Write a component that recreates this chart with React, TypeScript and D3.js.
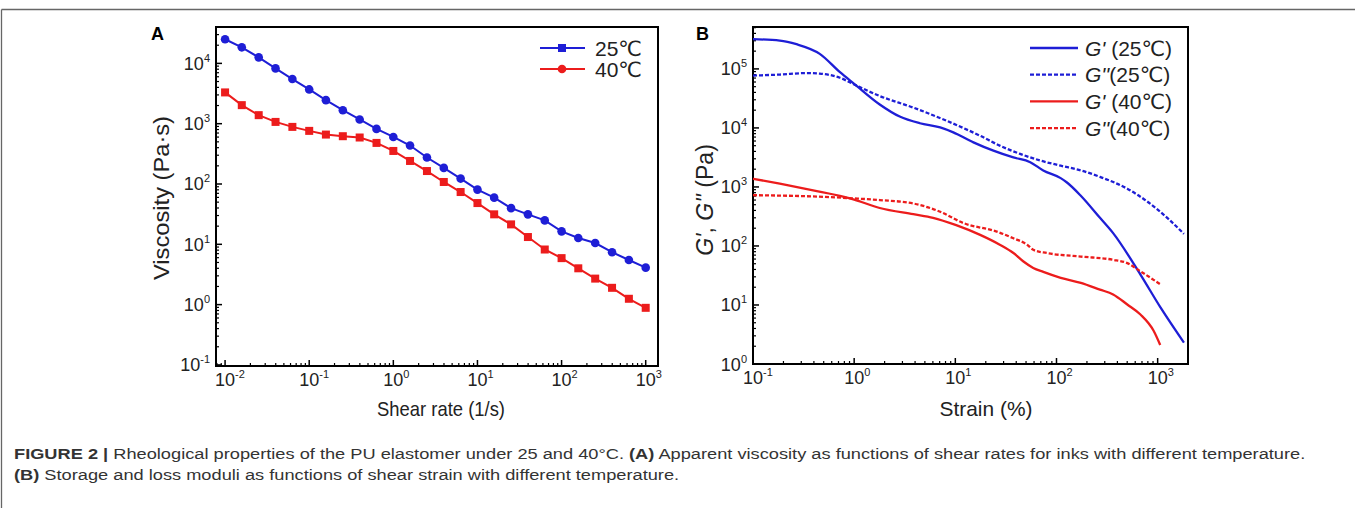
import React, { useEffect, useRef } from "react";
import * as d3 from "d3";

// ---------- Data ----------
// Panel A: viscosity vs shear rate
const shearRates = [0.01, 0.0158, 0.0251, 0.0398, 0.0631, 0.1, 0.158, 0.251, 0.398, 0.631, 1, 1.58, 2.51, 3.98, 6.31, 10, 15.8, 25.1, 39.8, 63.1, 100, 158, 251, 398, 631, 1000];
const visc25 = [25100, 18450, 12590, 8260, 5500, 3700, 2455, 1675, 1175, 820, 603, 435, 275, 185, 123, 80.7, 59.4, 39.8, 31.4, 24.9, 16.4, 12.7, 10.5, 7.4, 5.5, 4.1];
const visc40 = [3300, 2030, 1385, 1070, 885, 760, 660, 620, 590, 480, 353, 241, 164, 108, 73.6, 48.3, 31.4, 21.4, 13.2, 8.2, 5.9, 4.0, 2.7, 1.9, 1.25, 0.885];

// Panel B: moduli vs strain
const strainG1_25 = [0.1, 0.184, 0.269, 0.457, 0.724, 1.0, 1.79, 2.82, 4.47, 7.08, 9.55, 15.1, 23.8, 37.5, 55, 74, 110, 126, 172, 269, 363, 676, 1070, 1820];
const g1_25 = [319000, 302000, 262000, 180000, 88000, 56000, 25000, 15600, 12000, 10200, 8410, 5700, 4120, 3160, 2630, 1900, 1410, 1200, 724, 300, 165, 32.7, 9.0, 2.3];
const strainG2_25 = [0.1, 0.184, 0.339, 0.457, 0.724, 1.0, 1.79, 3.84, 8.22, 17.6, 27.5, 43.7, 69.2, 110, 174, 269, 501, 794, 1260, 1820];
const g2_25 = [77100, 80200, 85100, 83200, 70800, 54500, 34700, 22100, 13200, 7360, 5010, 3630, 2800, 2290, 1910, 1480, 933, 562, 293, 160];
const strainG1_40 = [0.1, 0.184, 0.393, 0.794, 1.0, 1.79, 3.84, 6.03, 10.2, 17.6, 27.5, 37.5, 46.8, 58.9, 74.1, 110, 174, 269, 363, 501, 676, 912, 1060];
const g1_40 = [1380, 1135, 877, 680, 610, 440, 345, 300, 225, 154, 105, 75.9, 55, 42.4, 36.3, 28.8, 23.7, 18.2, 15.1, 10.2, 6.9, 3.66, 2.1];
const strainG2_40 = [0.1, 0.393, 1.0, 1.79, 3.84, 7.08, 12.0, 25.7, 37.5, 51.3, 58.9, 80.4, 174, 363, 501, 676, 1060];
const g2_40 = [725, 690, 640, 600, 525, 380, 245, 175, 135, 105, 86.1, 75.9, 66.1, 58.3, 51.3, 37.2, 22.5];

const xTicksA = [-2, -1, 0, 1, 2, 3];
const yTicksA = [-1, 0, 1, 2, 3, 4];
const xTicksB = [-1, 0, 1, 2, 3];
const yTicksB = [0, 1, 2, 3, 4, 5];

const legendA = ["25\u2103", "40\u2103"];
const legendB = [
  { g: "G'", rest: " (25\u2103)" },
  { g: "G''", rest: "(25\u2103)" },
  { g: "G'", rest: " (40\u2103)" },
  { g: "G''", rest: "(40\u2103)" },
];

const BLUE = "#1e1ed6";
const RED = "#ec1c1c";
const FONT = "'Liberation Sans', Arial, 'DejaVu Sans', 'Noto Sans CJK SC', sans-serif";

type Box = { l: number; r: number; t: number; b: number };

function minorTicks(lo: number, hi: number) {
  const out: number[] = [];
  for (let e = lo - 1; e <= hi + 1; e++) {
    for (let k = 2; k <= 9; k++) out.push(k * Math.pow(10, e));
  }
  return out;
}

function Axes({ box, x, y, xt, yt }: { box: Box; x: any; y: any; xt: number[]; yt: number[] }) {
  const [x0, x1] = x.domain();
  const [y0, y1] = y.domain();
  const xm = minorTicks(xt[0], xt[xt.length - 1]).filter((v) => v > x0 && v < x1);
  const ym = minorTicks(yt[0], yt[yt.length - 1]).filter((v) => v > y0 && v < y1);
  return (
    <g>
      {xt.map((e) => (
        <line key={"xM" + e} x1={x(Math.pow(10, e))} x2={x(Math.pow(10, e))} y1={box.b} y2={box.b - 6} stroke="#000" strokeWidth={1.5} />
      ))}
      {xm.map((v, i) => (
        <line key={"xm" + i} x1={x(v)} x2={x(v)} y1={box.b} y2={box.b - 3} stroke="#000" strokeWidth={1.2} />
      ))}
      {yt.map((e) => (
        <line key={"yM" + e} x1={box.l} x2={box.l + 6} y1={y(Math.pow(10, e))} y2={y(Math.pow(10, e))} stroke="#000" strokeWidth={1.5} />
      ))}
      {ym.map((v, i) => (
        <line key={"ym" + i} x1={box.l} x2={box.l + 3} y1={y(v)} y2={y(v)} stroke="#000" strokeWidth={1.2} />
      ))}
      <rect x={box.l} y={box.t} width={box.r - box.l} height={box.b - box.t} fill="none" stroke="#000" strokeWidth={2} />
      {xt.map((e) => (
        <text key={"xl" + e} x={x(Math.pow(10, e)) - 10} y={box.b + 20} fontSize={18} fill="#222" fontFamily={FONT}>
          <tspan>10</tspan>
          <tspan dy={-8} fontSize={11}>{String(e)}</tspan>
        </text>
      ))}
      {yt.map((e) => (
        <text key={"yl" + e} x={box.l - 6} y={y(Math.pow(10, e)) + 6.5} fontSize={18} fill="#222" textAnchor="end" fontFamily={FONT}>
          <tspan>10</tspan>
          <tspan dy={-8} fontSize={11}>{String(e)}</tspan>
        </text>
      ))}
    </g>
  );
}

export default function App() {
  const capRef = useRef<SVGGElement>(null);

  const boxA: Box = { l: 216, r: 658, t: 27, b: 366 };
  const boxB: Box = { l: 753, r: 1188, t: 27, b: 364 };

  const xA = d3.scaleLog().domain([0.0078, 1400]).range([boxA.l, boxA.r]);
  const yA = d3.scaleLog().domain([0.096, 40100]).range([boxA.b, boxA.t]);
  const xB = d3.scaleLog().domain([0.1, 1995]).range([boxB.l, boxB.r]);
  const yB = d3.scaleLog().domain([1, 513000]).range([boxB.b, boxB.t]);

  const lineA = d3
    .line<number>()
    .x((_, i) => xA(shearRates[i]))
    .y((d) => yA(d));

  const mkB = (xs: number[]) =>
    d3
      .line<number>()
      .x((_, i) => xB(xs[i]))
      .y((d) => yB(d))
      .curve(d3.curveMonotoneX);

  const seriesB = [
    { xs: strainG1_25, ys: g1_25, color: BLUE, dash: "" },
    { xs: strainG2_25, ys: g2_25, color: BLUE, dash: "4,2" },
    { xs: strainG1_40, ys: g1_40, color: RED, dash: "" },
    { xs: strainG2_40, ys: g2_40, color: RED, dash: "4,2" },
  ];

  useEffect(() => {
    const g = capRef.current;
    if (!g) return;
    const t1 = d3.select(g).select<SVGTextElement>("text.l1").node();
    if (!t1) return;
    const w = t1.getComputedTextLength();
    const target = 1293;
    const s = target / w;
    d3.select(g).attr("transform", `translate(14,0) scale(${s},1)`);
  }, []);

  return (
    <svg width={1355} height={508} style={{ position: "absolute", left: 0, top: 0, background: "#fff" }} fontFamily={FONT}>
      <rect x={0} y={0} width={1355} height={508} fill="#fff" />
      {/* frame */}
      <line x1={1.5} x2={1355} y1={9.5} y2={9.5} stroke="#666" strokeWidth={1.3} />
      <line x1={1.5} x2={1.5} y1={9.5} y2={508} stroke="#666" strokeWidth={1.3} />

      {/* Panel A */}
      <text x={151} y={40} fontSize={18} fontWeight="bold" fill="#000">A</text>
      <Axes box={boxA} x={xA} y={yA} xt={xTicksA} yt={yTicksA} />
      <path d={lineA(visc25) || ""} fill="none" stroke={BLUE} strokeWidth={2} />
      <path d={lineA(visc40) || ""} fill="none" stroke={RED} strokeWidth={2} />
      {visc25.map((v, i) => (
        <circle key={"b" + i} cx={xA(shearRates[i])} cy={yA(v)} r={4.3} fill={BLUE} />
      ))}
      {visc40.map((v, i) => (
        <rect key={"r" + i} x={xA(shearRates[i]) - 4} y={yA(v) - 4} width={8} height={8} fill={RED} />
      ))}
      {/* legend A */}
      {legendA.map((t, i) => {
        const cy = 48 + i * 21;
        const c = i === 0 ? BLUE : RED;
        return (
          <g key={"la" + i}>
            <line x1={540} x2={585} y1={cy} y2={cy} stroke={c} strokeWidth={2} />
            {i === 0 ? (
              <rect x={558} y={cy - 4} width={8} height={8} fill={c} />
            ) : (
              <circle cx={562} cy={cy} r={4.3} fill={c} />
            )}
            <text x={595} y={cy + 7.5} fontSize={21} fill="#222">{t}</text>
          </g>
        );
      })}
      <text x={441} y={416} fontSize={21} textAnchor="middle" fill="#222" textLength={128} lengthAdjust="spacingAndGlyphs">Shear rate (1/s)</text>
      <text transform="translate(169,198) rotate(-90)" fontSize={22} textAnchor="middle" fill="#222" textLength={164} lengthAdjust="spacingAndGlyphs">Viscosity (Pa·s)</text>

      {/* Panel B */}
      <text x={696} y={40} fontSize={18} fontWeight="bold" fill="#000">B</text>
      <Axes box={boxB} x={xB} y={yB} xt={xTicksB} yt={yTicksB} />
      {seriesB.map((s, i) => (
        <path key={"sb" + i} d={mkB(s.xs)(s.ys) || ""} fill="none" stroke={s.color} strokeWidth={2.3} strokeDasharray={s.dash || undefined} />
      ))}
      {legendB.map((t, i) => {
        const cy = 48 + i * 26.7;
        const c = i < 2 ? BLUE : RED;
        return (
          <g key={"lb" + i}>
            <line x1={1030} x2={1078} y1={cy} y2={cy} stroke={c} strokeWidth={2.3} strokeDasharray={i % 2 === 1 ? "4,2" : undefined} />
            <text x={1085} y={cy + 7.5} fontSize={21} fill="#222">
              <tspan fontStyle="italic">{t.g}</tspan>
              <tspan>{t.rest}</tspan>
            </text>
          </g>
        );
      })}
      <text x={986} y={416} fontSize={21} textAnchor="middle" fill="#222" textLength={93} lengthAdjust="spacingAndGlyphs">Strain (%)</text>
      <text transform="translate(713,200) rotate(-90)" fontSize={23} textAnchor="middle" fill="#222">
        <tspan fontStyle="italic">G'</tspan>
        <tspan>, </tspan>
        <tspan fontStyle="italic">G''</tspan>
        <tspan> (Pa)</tspan>
      </text>

      {/* caption */}
      <g ref={capRef} transform="translate(14,0)">
        <text className="l1" x={0} y={459} fontSize={15.5} fill="#333">
          <tspan fontWeight="bold">FIGURE 2 | </tspan>
          <tspan>Rheological properties of the PU elastomer under 25 and 40°C. </tspan>
          <tspan fontWeight="bold">(A)</tspan>
          <tspan> Apparent viscosity as functions of shear rates for inks with different temperature.</tspan>
        </text>
        <text x={0} y={480} fontSize={15.5} fill="#333">
          <tspan fontWeight="bold">(B)</tspan>
          <tspan> Storage and loss moduli as functions of shear strain with different temperature.</tspan>
        </text>
      </g>
    </svg>
  );
}
